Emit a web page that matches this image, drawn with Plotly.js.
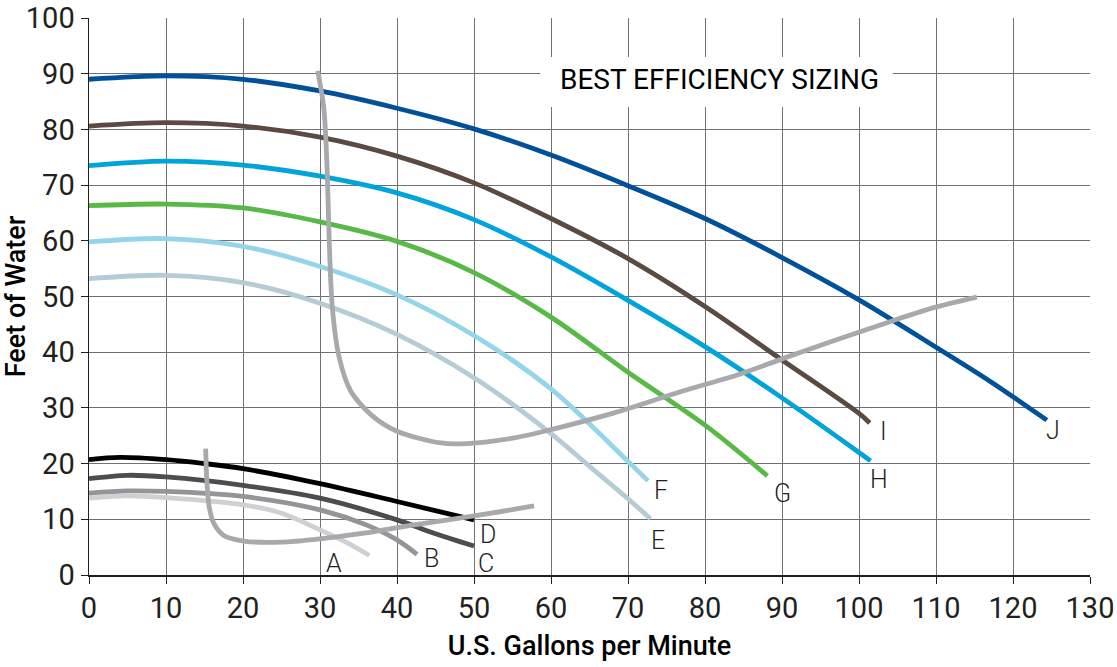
<!DOCTYPE html>
<html>
<head>
<meta charset="utf-8">
<script src="https://cdn.plot.ly/plotly-3.0.1.min.js"></script>
<style>html,body{margin:0;padding:0;background:#fff;}#chart{width:1117px;height:667px;}</style>
</head>
<body>
<div id="chart"></div>
<script>
// ---- data ----
const curveNames = ["A","B","C","D","E","F","G","H","I","J"];

const A_x = [0, 5, 10, 20, 25, 30, 33.5, 36.4];
const A_y = [13.8, 14.2, 13.9, 12.6, 11.1, 8.1, 5.8, 3.5];

const B_x = [0, 5, 10, 20, 30, 36, 40, 42.6];
const B_y = [14.7, 15.1, 15.0, 14.1, 11.7, 9.0, 6.3, 3.7];

const C_x = [0, 5, 10, 20, 30, 40, 45, 50];
const C_y = [17.3, 17.9, 17.6, 16.1, 13.8, 9.9, 7.4, 5.2];

const D_x = [0, 4, 10, 15, 20, 30, 40, 50];
const D_y = [20.7, 21.1, 20.7, 20.0, 19.1, 16.4, 13.2, 9.9];

const E_x = [0, 10, 20, 30, 40, 50, 60, 65, 70, 72.9];
const E_y = [53.2, 53.8, 52.5, 48.8, 43.2, 35.4, 25.4, 19.5, 13.7, 10.1];

const F_x = [0, 10, 20, 30, 40, 50, 60, 70, 72.6];
const F_y = [59.8, 60.4, 59.0, 55.4, 50.3, 43.0, 33.4, 20.4, 16.9];

const G_x = [0, 10, 20, 30, 40, 50, 60, 70, 80, 88.1];
const G_y = [66.3, 66.6, 65.9, 63.4, 59.9, 54.3, 46.3, 36.4, 26.9, 17.8];

const H_x = [0, 10, 20, 30, 40, 50, 60, 70, 80, 90, 100, 101.5];
const H_y = [73.5, 74.3, 73.6, 71.6, 68.6, 63.8, 57.1, 49.3, 41.0, 31.8, 22.0, 20.5];

const I_x = [0, 10, 20, 30, 40, 50, 60, 70, 80, 90, 100, 101.4];
const I_y = [80.6, 81.2, 80.6, 78.6, 75.2, 70.4, 64.0, 56.8, 48.2, 38.6, 29.0, 27.3];

const J_x = [0, 10, 20, 30, 40, 50, 60, 70, 80, 90, 100, 110, 117, 124.4];
const J_y = [89.0, 89.6, 89.0, 86.9, 83.8, 80.1, 75.4, 69.9, 64.0, 57.0, 49.4, 40.9, 34.8, 27.8];

// best-efficiency boundary curves
const effLarge_x = [29.7, 30.5, 30.95, 31.2, 31.6, 32.5, 34, 36.6, 40, 45.7, 49.1, 55.2, 60, 68.2, 76.8, 84.6, 90, 96.8, 104.5, 109.7, 115.3];
const effLarge_y = [90.5, 83.8, 71.9, 59.9, 48, 39, 33, 28.8, 25.8, 23.7, 23.6, 24.6, 26.1, 29.1, 32.9, 36.1, 38.8, 42.1, 45.7, 48, 49.9];

const effSmall_x = [15.15, 15.3, 15.6, 16.2, 17.5, 20.1, 24.9, 30, 35.7, 42.2, 50, 57.8];
const effSmall_y = [22.7, 17, 12.3, 9.3, 7.1, 6.1, 5.9, 6.5, 7.5, 9.0, 10.6, 12.4];

const xTicks = [0,10,20,30,40,50,60,70,80,90,100,110,120,130];
const yTicks = [0,10,20,30,40,50,60,70,80,90,100];

const boxTitle = "BEST EFFICIENCY SIZING";
const xTitle = "U.S. Gallons per Minute";
const yTitle = "Feet of Water";

// ---- styles ----
const curveData = {A:[A_x,A_y],B:[B_x,B_y],C:[C_x,C_y],D:[D_x,D_y],E:[E_x,E_y],F:[F_x,F_y],G:[G_x,G_y],H:[H_x,H_y],I:[I_x,I_y],J:[J_x,J_y]};
const colors = {A:"#cfd0d1",B:"#939598",C:"#4d4d4f",D:"#000000",E:"#b5ccd7",F:"#95d5e9",G:"#58b947",H:"#00a3da",I:"#5b4a41",J:"#00509a"};
const labelShift = {A:[-35,-8],B:[14,-4],C:[12,-17],D:[14,-15],E:[8,-22],F:[13,-10],G:[15,-18],H:[8,-19],I:[14,-9],J:[6,-10]};
const effColor = "#a7a9ac";
const fontFam = "Roboto, 'DejaVu Sans', sans-serif";
const tickFam = "'Liberation Sans Narrow', Roboto, sans-serif";
const LW = 4.8;

function curveTrace(xs, ys, color, sm){
  return {x:xs,y:ys,mode:"lines",line:{color:color,width:LW,shape:"spline",smoothing:sm},hoverinfo:"skip"};
}
const traces = [];
["A","B","C","D"].forEach(n=>traces.push(curveTrace(curveData[n][0],curveData[n][1],colors[n],0.9)));
traces.push(curveTrace(effSmall_x,effSmall_y,effColor,0.8));
["E","F","G","H","I","J"].forEach(n=>traces.push(curveTrace(curveData[n][0],curveData[n][1],colors[n],0.9)));
traces.push(curveTrace(effLarge_x,effLarge_y,effColor,0.8));

const annotations = curveNames.map(n=>{
  const xs = curveData[n][0], ys = curveData[n][1];
  return {x:xs[xs.length-1], y:ys[ys.length-1], xref:"x", yref:"y", text:n, showarrow:false,
    xshift:labelShift[n][0], yshift:labelShift[n][1],
    font:{family:fontFam,size:25,color:"#231f20",weight:300}};
});
annotations.push({x:81.9,y:88.9,xref:"x",yref:"y",text:boxTitle,showarrow:false,
  font:{family:fontFam,size:28,color:"#000000",weight:400}});

const layout = {
  width:1117,height:667,
  margin:{l:89,r:27,t:18,b:92},
  paper_bgcolor:"#ffffff",plot_bgcolor:"#ffffff",
  showlegend:false,
  font:{family:fontFam,color:"#231f20"},
  shapes:[{type:"rect",xref:"x",yref:"y",x0:58.6,x1:104.4,y0:84.0,y1:93.0,
    fillcolor:"#ffffff",line:{width:0},layer:"between"}],
  xaxis:{range:[0,130],tickvals:xTicks,ticktext:xTicks.map(String),
    showgrid:true,gridcolor:"#707174",gridwidth:1,zeroline:false,
    showline:true,linecolor:"#231f20",linewidth:1.5,
    ticks:"outside",ticklen:7,tickcolor:"#231f20",tickwidth:1,
    tickfont:{family:tickFam,size:29,color:"#231f20"},
    title:{text:xTitle,standoff:12,font:{family:fontFam,size:27,color:"#000",weight:500}}},
  yaxis:{range:[0,100],tickvals:yTicks,ticktext:yTicks.map(String),
    showgrid:true,gridcolor:"#707174",gridwidth:1,zeroline:false,
    showline:true,linecolor:"#231f20",linewidth:1.5,
    ticks:"outside",ticklen:7,tickcolor:"#231f20",tickwidth:1,
    tickfont:{family:tickFam,size:29,color:"#231f20"},
    title:{text:yTitle,standoff:8,font:{family:fontFam,size:27,color:"#000",weight:500}}},
  annotations:annotations
};

Plotly.newPlot("chart",traces,layout,{staticPlot:true,displayModeBar:false});
</script>
</body>
</html>
